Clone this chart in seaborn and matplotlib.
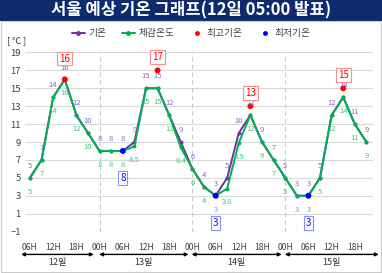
import seaborn as sns
import matplotlib.pyplot as plt
from matplotlib.lines import Line2D
from matplotlib.patches import Rectangle

# hours counted from 12일 00H, every 3 hours
hours = [6, 9, 12, 15, 18, 21,
         24, 27, 30, 33, 36, 39, 42, 45,
         48, 51, 54, 57, 60, 63, 66, 69,
         72, 75, 78, 81, 84, 87, 90, 93]
temp = [5, 7, 14, 16, 12, 10,
        8, 8, 8, 9, 15, 15, 12, 9,
        6, 4, 3, 5, 10, 12, 9, 7,
        5, 3, 3, 5, 12, 14, 11, 9]
feel = [5, 7, 14, 16, 12, 10,
        8, 8, 8, 8.5, 15, 15, 12, 8.4,
        6, 4, 3, 3.8, 8.9, 12, 9, 7,
        5, 3, 3, 5, 12, 14, 11, 9]

max_hours = [15, 39, 63, 87]
max_vals = [16, 17, 13, 15]
min_hours = [30, 54, 78]
min_vals = [8, 3, 3]

tick_hours = [6, 12, 18, 24, 30, 36, 42, 48, 54, 60, 66, 72, 78, 84, 90]
tick_labels = ["06H", "12H", "18H", "00H", "06H", "12H", "18H", "00H",
               "06H", "12H", "18H", "00H", "06H", "12H", "18H"]
days = ["12일", "13일", "14일", "15일"]
day_spans = [(3.7, 22.5), (23.9, 47.0), (47.8, 71.1), (71.9, 96.2)]

sns.set_style("white")
plt.rcParams["font.family"] = ["Noto Sans CJK KR", "DejaVu Sans"]

PURPLE = "#7030A0"
PURPLE_LBL = "#8C68BE"
GREEN = "#00B050"
GREEN_LBL = "#45C27A"

fig = plt.figure(figsize=(3.82, 2.73), dpi=100)

# title band
fig.patches.append(Rectangle((0, 0.923), 1, 0.077, transform=fig.transFigure,
                             facecolor="#0F2B6B", edgecolor="none"))
fig.text(0.5, 0.962, "서울 예상 기온 그래프(12일 05:00 발표)", color="white",
         fontsize=12, fontweight="bold", ha="center", va="center")
fig.patches.append(Rectangle((0.002, 0.003), 0.996, 0.92, transform=fig.transFigure,
                             facecolor="none", edgecolor="#C8C8C8", lw=0.8))
fig.text(0.018, 0.85, "[ ℃ ]", fontsize=6.5, color="#333333", ha="left", va="center")

ax = fig.add_axes([0.0654, 0.152, 0.910, 0.6557])

sns.lineplot(x=hours, y=temp, ax=ax, color=PURPLE, lw=1.4, marker="o",
             markersize=2.8, markeredgewidth=0, zorder=3)
sns.lineplot(x=hours, y=feel, ax=ax, color=GREEN, lw=1.4, marker="o",
             markersize=2.8, markeredgewidth=0, zorder=4)
sns.scatterplot(x=max_hours, y=max_vals, ax=ax, color="#FF0000", s=18,
                edgecolor="none", zorder=5)
sns.scatterplot(x=min_hours, y=min_vals, ax=ax, color="#0000FF", s=18,
                edgecolor="none", zorder=5)

for h, t, f in zip(hours, temp, feel):
    ax.annotate(f"{t:g}", (h, t), xytext=(0, 8.5), textcoords="offset points",
                ha="center", va="center", fontsize=5.5, color=PURPLE_LBL, zorder=6)
    ax.annotate(f"{f:g}", (h, f), xytext=(0, -10), textcoords="offset points",
                ha="center", va="center", fontsize=5.5, color=GREEN_LBL, zorder=6)

for h, v in zip(max_hours, max_vals):
    line_v = temp[hours.index(h)]
    off = 15 if line_v == v else 9.5
    ax.annotate(f"{v}", (h, v), xytext=(0, off), textcoords="offset points",
                ha="center", va="center", fontsize=7, color="#FF0000",
                annotation_clip=False, zorder=7,
                bbox=dict(boxstyle="square,pad=0.2", fc="white", ec="#FF8C8C", lw=0.8))
for h, v in zip(min_hours, min_vals):
    ax.annotate(f"{v}", (h, v), xytext=(0, -19.5), textcoords="offset points",
                ha="center", va="center", fontsize=7, color="#0000FF",
                annotation_clip=False, zorder=7,
                bbox=dict(boxstyle="square,pad=0.2", fc="white", ec="#8C8CFF", lw=0.8))

for b in [24, 48, 72]:
    ax.axvline(b, color="#C8C8C8", lw=0.8, ls=(0, (4, 3)), zorder=1)

ax.set_xlim(4.71, 94.6)
ax.set_ylim(-1, 19)
ax.set_yticks(range(-1, 20, 2))
ax.set_xticks(tick_hours)
ax.set_xticklabels(tick_labels)
ax.grid(axis="y", color="#D9D9D9", lw=0.8)
ax.grid(axis="x", visible=False)
sns.despine(ax=ax, left=True, bottom=True)
ax.tick_params(axis="y", length=0, pad=3, labelsize=6.8, labelcolor="#404040")
ax.tick_params(axis="x", length=0, pad=8, labelsize=6.2, labelcolor="#404040")

for (a, b), d in zip(day_spans, days):
    ax.annotate("", xy=(b, -0.128), xytext=(a, -0.128),
                xycoords=("data", "axes fraction"), textcoords=("data", "axes fraction"),
                annotation_clip=False,
                arrowprops=dict(arrowstyle="<|-|>", color="black", lw=1.0,
                                mutation_scale=5, shrinkA=0, shrinkB=0))
    ax.text((a + b) / 2, -0.175, d, transform=ax.get_xaxis_transform(),
            ha="center", va="center", fontsize=6.5, color="#333333", clip_on=False)

handles = [
    Line2D([], [], color=PURPLE, lw=1.4, marker="o", markersize=2.5),
    Line2D([], [], color=GREEN, lw=1.4, marker="o", markersize=2.5),
    Line2D([], [], color="none", marker="o", markerfacecolor="#FF0000",
           markeredgecolor="none", markersize=3.5),
    Line2D([], [], color="none", marker="o", markerfacecolor="#0000FF",
           markeredgecolor="none", markersize=3.5),
]
fig.legend(handles, ["기온", "체감온도", "최고기온", "최저기온"], loc="center",
           bbox_to_anchor=(0.5, 0.879), ncol=4, frameon=False, fontsize=7,
           handlelength=1.4, handletextpad=0.3, columnspacing=1.6,
           labelcolor="#404040")

fig.savefig("out.png", dpi=100)
